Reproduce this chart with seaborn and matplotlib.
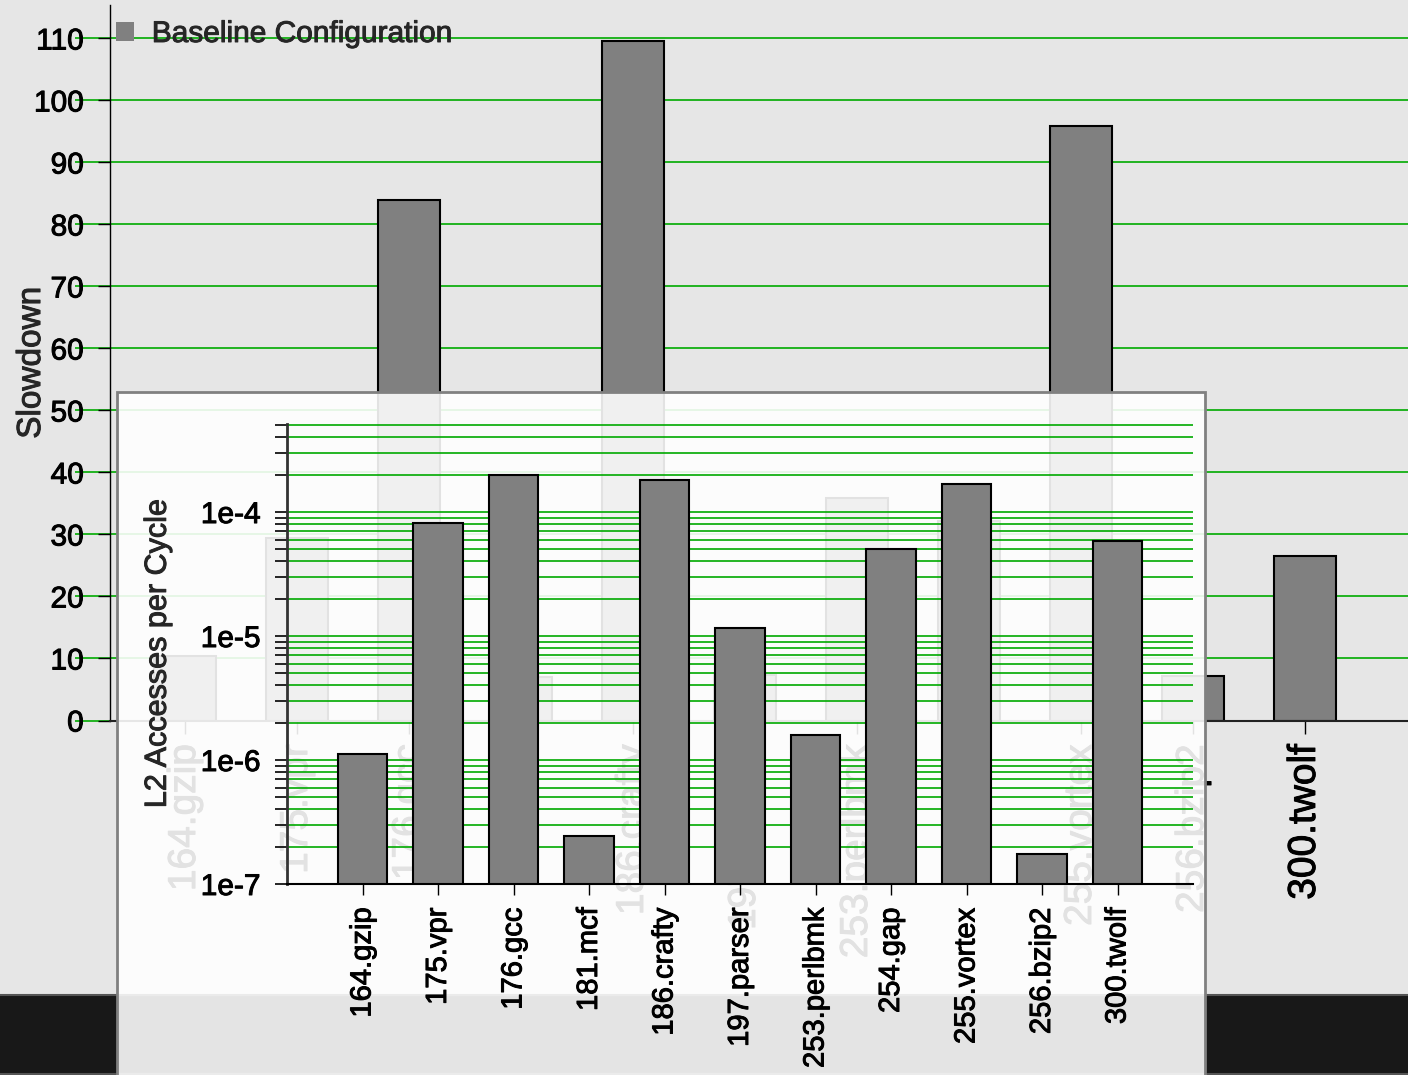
import numpy as np
import pandas as pd
import matplotlib
matplotlib.use("Agg")
import matplotlib.pyplot as plt
import matplotlib.patheffects as pe
from matplotlib.text import Text
import seaborn as sns
from matplotlib.patches import Rectangle, Patch
from matplotlib.ticker import LogLocator, NullFormatter

# SPEC CPU2000 integer benchmarks
benchmarks = ["164.gzip", "175.vpr", "176.gcc", "181.mcf", "186.crafty",
              "197.parser", "253.perlbmk", "254.gap", "255.vortex",
              "256.bzip2", "300.twolf"]
slowdown = [10.4, 29.4, 84.0, 7.0, 109.6, 7.3, 35.9, 32.2, 95.9, 7.1, 26.6]
l2_per_cycle = [1.11e-6, 8.2e-5, 1.98e-4, 2.44e-7, 1.81e-4, 1.17e-5,
                1.59e-6, 5.04e-5, 1.67e-4, 1.75e-7, 5.84e-5]

slowdown_ticks = list(range(0, 111, 10))
l2_major_ticks = [1e-7, 1e-6, 1e-5, 1e-4]
l2_tick_labels = ["1e-7", "1e-6", "1e-5", "1e-4"]
series_label = "Baseline Configuration"

BG = "#e6e6e6"
GREEN = "#00aa00"
BAR = "#808080"

sns.set_style("ticks")
plt.rcParams["font.family"] = ["Liberation Sans", "DejaVu Sans"]

W, H = 1408, 1075
fig = plt.figure(figsize=(W / 100, H / 100), dpi=100, facecolor=BG)


def fx(px):
    return px / W


def fy(py):
    return 1 - py / H


df = pd.DataFrame({"benchmark": benchmarks, "slowdown": slowdown,
                   "l2": l2_per_cycle})

# dark strip along the bottom of the canvas
fig.add_artist(Rectangle((-0.01, 0.0007), 1.02, fy(994.5) - 0.0007,
                         transform=fig.transFigure, facecolor="#181818",
                         edgecolor="#555555", linewidth=1.5, zorder=-1))

# ---- main slowdown chart ----
ax = fig.add_axes([fx(110), fy(720.5), fx(1408) - fx(110), fy(5) - fy(720.5)])
ax.set_facecolor(BG)
sns.barplot(data=df, x="benchmark", y="slowdown", color=BAR, saturation=1,
            width=0.55, edgecolor="black", linewidth=1.5, ax=ax)
ax.set_xlim(-0.67, 10.92)
ax.set_ylim(0, 115.4)
ax.set_yticks(slowdown_ticks)
ax.hlines(slowdown_ticks, -0.027, 1, transform=ax.get_yaxis_transform(),
          colors=GREEN, linewidth=1.2, zorder=0.5, clip_on=False)
for side in ("top", "right"):
    ax.spines[side].set_visible(False)
ax.spines["left"].set_color("black")
ax.spines["left"].set_linewidth(1.0)
ax.spines["bottom"].set_color("#222222")
ax.spines["bottom"].set_linewidth(1.5)
ax.tick_params(axis="y", length=9, width=1, pad=10, labelsize=21.5,
               colors="black")
ax.tick_params(axis="x", length=9, width=1, pad=8, labelsize=28,
               labelrotation=90, colors="black")
ax.set_xlabel("")
ax.set_ylabel("Slowdown", fontsize=24)
ax.yaxis.set_label_coords(-0.0485, 0.5)
ax.legend(handles=[Patch(facecolor=BAR, edgecolor="none", label=series_label)],
          loc="upper left", bbox_to_anchor=(0, 0.9874), frameon=False,
          fontsize=21.5, borderaxespad=0, borderpad=0.2, handlelength=0.6,
          handleheight=0.6, handletextpad=0.6)

# translucent panel holding the inset
fig.add_artist(Rectangle((fx(117), -0.05), fx(1205) - fx(117), fy(392) + 0.05,
                         transform=fig.transFigure, facecolor=(1, 1, 1, 0.89),
                         edgecolor="#808080", linewidth=2, zorder=1))

# ---- inset: L2 accesses per cycle (log scale) ----
ax2 = fig.add_axes([fx(287), fy(884), fx(1193) - fx(287), fy(424.3) - fy(884)],
                   zorder=2)
ax2.set_facecolor("none")
ax2.set_yscale("log")
sns.barplot(data=df, x="benchmark", y="l2", color=BAR, saturation=1,
            width=0.66, edgecolor="black", linewidth=1.5, ax=ax2)
ax2.set_xlim(-1, 11)
ax2.set_ylim(1e-7, 5.1e-4)
ax2.set_yticks(l2_major_ticks, labels=l2_tick_labels)
ax2.yaxis.set_minor_locator(LogLocator(base=10, subs=np.arange(2, 10)))
ax2.yaxis.set_minor_formatter(NullFormatter())
ax2.grid(axis="y", which="both", color=GREEN, linewidth=1.2)
ax2.set_axisbelow(True)
for side in ("top", "right"):
    ax2.spines[side].set_visible(False)
ax2.spines["left"].set_color("#333333")
ax2.spines["left"].set_linewidth(2)
ax2.spines["bottom"].set_color("black")
ax2.spines["bottom"].set_linewidth(1.5)
ax2.tick_params(axis="y", which="both", length=9, width=1.2, pad=10,
                labelsize=21.5, colors="black")
ax2.tick_params(axis="x", length=8, width=1, pad=9, labelsize=21,
                labelrotation=90, colors="black")
ax2.set_xlabel("")
ax2.set_ylabel("L2 Accesses per Cycle", fontsize=22)
ax2.yaxis.set_label_coords(-0.126, 0.5)

# slightly heavier glyph strokes for all text
for t in fig.findobj(Text):
    t.set_path_effects([pe.withStroke(linewidth=0.7, foreground=t.get_color())])

fig.savefig("out.png", dpi=100, facecolor=BG)
